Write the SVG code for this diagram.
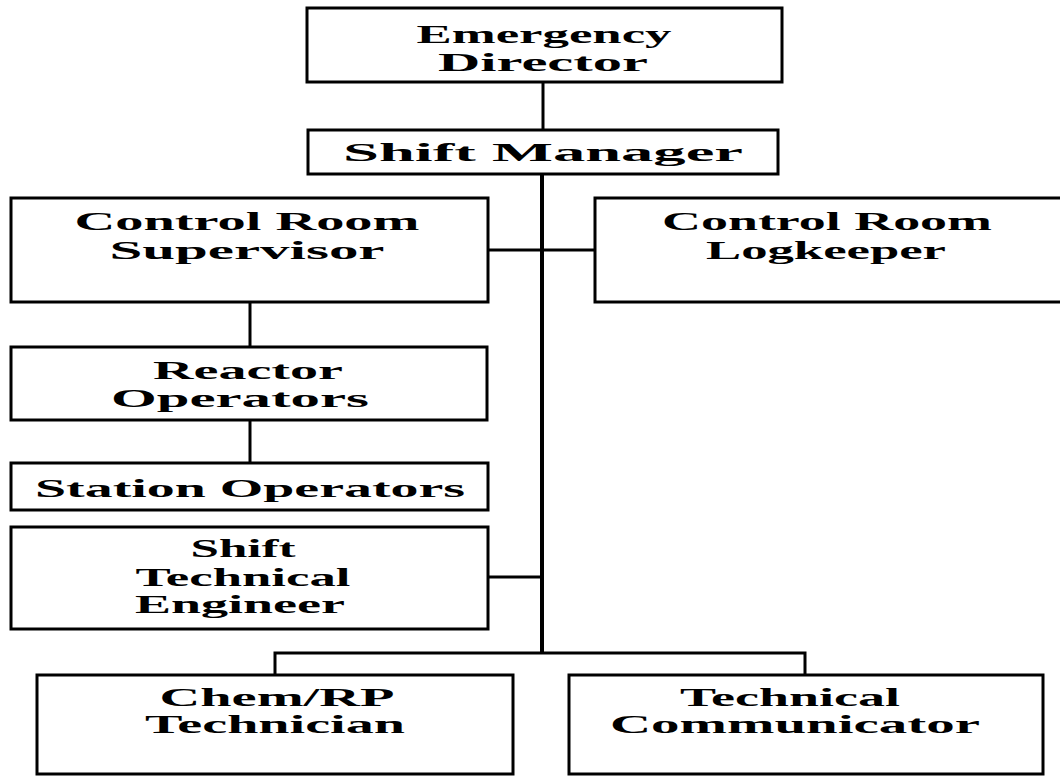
<svg xmlns="http://www.w3.org/2000/svg" width="1060" height="776" viewBox="0 0 1060 776">
<style>
.box{fill:#fff;stroke:#000;stroke-width:3}
.ln{stroke:#000;stroke-width:3;fill:none}
.t{font-family:"Liberation Serif","Times New Roman",serif;font-weight:bold;font-size:26px;fill:#000;text-anchor:middle}
</style>
<rect width="1060" height="776" fill="#fff"/>
<g id="connectors">
<line class="ln" x1="543" y1="82" x2="543" y2="130"/>
<line class="ln" x1="542" y1="173" x2="542" y2="653" style="stroke-width:4"/>
<line class="ln" x1="488" y1="250" x2="595" y2="250"/>
<line class="ln" x1="250" y1="302" x2="250" y2="347"/>
<line class="ln" x1="250" y1="420" x2="250" y2="463"/>
<line class="ln" x1="488" y1="577" x2="542" y2="577"/>
<polyline class="ln" points="275,675 275,653 805,653 805,675"/>
</g>
<g id="emergency-director">
<rect class="box" x="307" y="8" width="475" height="74"/>
<text class="t" x="544" y="43" textLength="255" lengthAdjust="spacingAndGlyphs">Emergency</text>
<text class="t" x="543" y="71" textLength="210" lengthAdjust="spacingAndGlyphs">Director</text>
</g>
<g id="shift-manager">
<rect class="box" x="308" y="130" width="470" height="44"/>
<text class="t" x="543" y="161" textLength="400" lengthAdjust="spacingAndGlyphs">Shift Manager</text>
</g>
<g id="control-room-supervisor">
<rect class="box" x="11" y="198" width="477" height="104"/>
<text class="t" x="247" y="230" textLength="345" lengthAdjust="spacingAndGlyphs">Control Room</text>
<text class="t" x="247" y="259" textLength="275" lengthAdjust="spacingAndGlyphs">Supervisor</text>
</g>
<g id="control-room-logkeeper">
<rect class="box" x="595" y="198" width="470" height="104"/>
<text class="t" x="827" y="230" textLength="330" lengthAdjust="spacingAndGlyphs">Control Room</text>
<text class="t" x="826" y="259" textLength="240" lengthAdjust="spacingAndGlyphs">Logkeeper</text>
</g>
<g id="reactor-operators">
<rect class="box" x="11" y="347" width="476" height="73"/>
<text class="t" x="248" y="379" textLength="190" lengthAdjust="spacingAndGlyphs">Reactor</text>
<text class="t" x="240" y="407" textLength="258" lengthAdjust="spacingAndGlyphs">Operators</text>
</g>
<g id="station-operators">
<rect class="box" x="11" y="463" width="477" height="47"/>
<text class="t" x="250" y="497" textLength="430" lengthAdjust="spacingAndGlyphs">Station Operators</text>
</g>
<g id="shift-technical-engineer">
<rect class="box" x="11" y="527" width="477" height="102"/>
<text class="t" x="243" y="557" textLength="105" lengthAdjust="spacingAndGlyphs">Shift</text>
<text class="t" x="243" y="586" textLength="215" lengthAdjust="spacingAndGlyphs">Technical</text>
<text class="t" x="240" y="613" textLength="210" lengthAdjust="spacingAndGlyphs">Engineer</text>
</g>
<g id="chem-rp-technician">
<rect class="box" x="37" y="675" width="476" height="99"/>
<text class="t" x="277" y="706" textLength="235" lengthAdjust="spacingAndGlyphs">Chem/RP</text>
<text class="t" x="275" y="733" textLength="260" lengthAdjust="spacingAndGlyphs">Technician</text>
</g>
<g id="technical-communicator">
<rect class="box" x="569" y="675" width="474" height="99"/>
<text class="t" x="790" y="706" textLength="220" lengthAdjust="spacingAndGlyphs">Technical</text>
<text class="t" x="795" y="733" textLength="370" lengthAdjust="spacingAndGlyphs">Communicator</text>
</g>
</svg>
